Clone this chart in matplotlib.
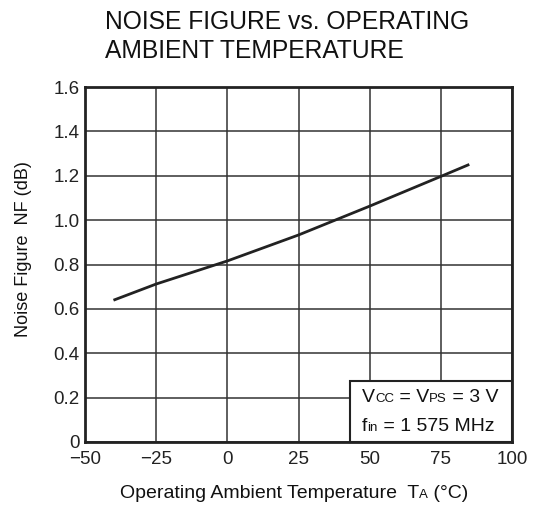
import matplotlib
matplotlib.use('Agg')
import matplotlib.pyplot as plt
from matplotlib.patches import Rectangle
from matplotlib.offsetbox import TextArea, HPacker, VPacker, AnchoredOffsetbox

plt.rcParams['font.family'] = ['Liberation Sans', 'DejaVu Sans']

# curve
temp = [-40, -25, 0, 25, 50, 75, 85]
nf = [0.639, 0.712, 0.816, 0.933, 1.063, 1.197, 1.251]

xticks = [-50, -25, 0, 25, 50, 75, 100]
xticklabels = ['\u221250', '\u221225', '0', '25', '50', '75', '100']
yticks = [0, 0.2, 0.4, 0.6, 0.8, 1.0, 1.2, 1.4, 1.6]
yticklabels = ['0', '0.2', '0.4', '0.6', '0.8', '1.0', '1.2', '1.4', '1.6']

fig = plt.figure(figsize=(5.35, 5.13), dpi=100)
ax = fig.add_axes([85 / 535, 1 - 442 / 513, 427 / 535, 355 / 513])

ax.plot(temp, nf, color='#222222', linewidth=2, solid_capstyle='butt', zorder=3)

ax.set_xlim(-50, 100)
ax.set_ylim(0, 1.6)
ax.set_xticks(xticks)
ax.set_xticklabels(xticklabels)
ax.set_yticks(yticks)
ax.set_yticklabels(yticklabels)
ax.tick_params(length=0, labelsize=13.5, colors='#222222')
ax.tick_params(axis='x', pad=6.5)
ax.tick_params(axis='y', pad=4)
ax.grid(True, color='#333333', linewidth=1.1)
for s in ax.spines.values():
    s.set_linewidth(2)
    s.set_color('#222222')

fig.text(24 / 535, 1 - 249 / 513, 'Noise Figure  NF (dB)', fontsize=13, rotation=90,
         ha='center', va='center', color='#111111')

# condition box, small subscripts on the baseline
ax.add_patch(Rectangle((43.2, 0), 56.8, 0.275, facecolor='white', edgecolor='#222222',
                       linewidth=1.5, zorder=5, clip_on=False))
big = dict(fontsize=14, color='#111111')
small = dict(fontsize=9.5, color='#111111')
line1 = HPacker(children=[TextArea('V', textprops=big), TextArea('CC', textprops=small),
                          TextArea(' = V', textprops=big), TextArea('PS', textprops=small),
                          TextArea(' = 3 V', textprops=big)],
                align='baseline', pad=0, sep=0)
line2 = HPacker(children=[TextArea('f', textprops=big), TextArea('in', textprops=small),
                          TextArea(' = 1 575 MHz', textprops=big)],
                align='baseline', pad=0, sep=0)
box = VPacker(children=[line1, line2], align='left', pad=0, sep=8)
anch = AnchoredOffsetbox(loc='center left', child=box, pad=0, borderpad=0, frameon=False,
                         bbox_to_anchor=(362 / 535, 1 - 412 / 513),
                         bbox_transform=fig.transFigure)
anch.zorder = 6
fig.add_artist(anch)

# x label with the small A subscript
xl = HPacker(children=[TextArea('Operating Ambient Temperature  T', textprops=dict(fontsize=14, color='#111111')),
                       TextArea('A', textprops=dict(fontsize=9.5, color='#111111')),
                       TextArea(' (\u00b0C)', textprops=dict(fontsize=14, color='#111111'))],
             align='baseline', pad=0, sep=0)
xla = AnchoredOffsetbox(loc='center', child=xl, pad=0, borderpad=0, frameon=False,
                        bbox_to_anchor=(294 / 535, 1 - 494 / 513), bbox_transform=fig.transFigure)
fig.add_artist(xla)

fig.text(105 / 535, 1 - 10 / 513, 'NOISE FIGURE vs. OPERATING\nAMBIENT TEMPERATURE',
         fontsize=17.7, ha='left', va='top', linespacing=1.25, color='#111111')

fig.savefig('out.png', dpi=100)
